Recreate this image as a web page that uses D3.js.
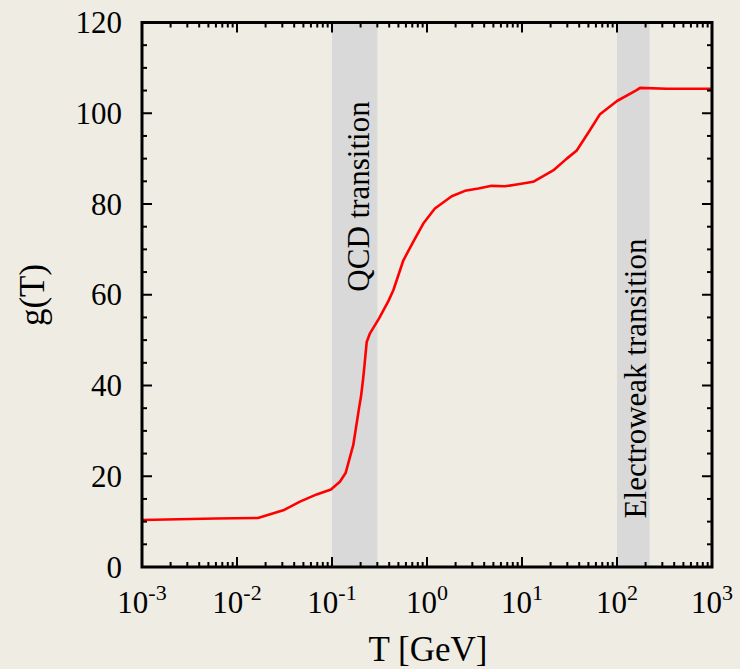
<!DOCTYPE html>
<html>
<head>
<meta charset="utf-8">
<script src="https://cdn.jsdelivr.net/npm/d3@7"></script>
<style>
  html, body { margin: 0; padding: 0; background: #efece4; }
  svg { display: block; }
  text { font-family: "Liberation Serif", "Times New Roman", serif; fill: #000; }
</style>
</head>
<body>
<svg id="chart" width="740" height="669"></svg>
<script>
// ---- data ----
const temperatureGeV = [0.001, 0.006, 0.0166, 0.0307, 0.046, 0.069, 0.0975, 0.121, 0.139, 0.1675, 0.1935, 0.2018, 0.213, 0.219, 0.232, 0.251, 0.313, 0.392, 0.442, 0.564, 0.718, 0.914, 1.21, 1.82, 2.51, 3.47, 4.8, 6.62, 8.79, 13.1, 21.3, 29.6, 37.7, 52.0, 66.2, 100, 161, 175, 333, 1000];
const gValues        = [10.36, 10.7, 10.8, 12.5, 14.4, 16.0, 17.1, 18.8, 20.7, 26.9, 35.3, 37.5, 41.6, 44.1, 49.6, 51.5, 54.8, 58.6, 61.0, 67.6, 71.7, 75.7, 79.0, 81.7, 82.9, 83.4, 84.0, 83.9, 84.3, 84.9, 87.4, 90.0, 91.8, 96.3, 99.8, 102.7, 105.1, 105.6, 105.4, 105.4];
const bandLabels = ["QCD transition", "Electroweak transition"];
const bandStart  = [0.1, 100];
const bandEnd    = [0.3, 220];
const xTickExponents = [-3, -2, -1, 0, 1, 2, 3];
const yTickValues = [0, 20, 40, 60, 80, 100, 120];
const xTitle = "T [GeV]";
const yTitle = "g(T)";

// ---- layout ----
const L = 142, R = 712, T = 22.5, B = 567;
const svg = d3.select("#chart");
svg.append("rect").attr("width", 740).attr("height", 669).attr("fill", "#efece4");

const x = d3.scaleLog().domain([1e-3, 1e3]).range([L, R]);
const y = d3.scaleLinear().domain([0, 120]).range([B, T]);

// bands
const bands = bandLabels.map((l, i) => ({label: l, a: bandStart[i], b: bandEnd[i]}));
svg.selectAll("rect.band").data(bands).enter().append("rect")
  .attr("class", "band")
  .attr("x", d => x(d.a)).attr("width", d => x(d.b) - x(d.a))
  .attr("y", T).attr("height", B - T)
  .attr("fill", "#d9d9d9");

// band labels
const labelPos = [{cx: 358, cy: 196.5}, {cx: 635, cy: 378.5}];
svg.selectAll("text.band").data(bands).enter().append("text")
  .attr("class", "band")
  .attr("transform", (d, i) => `translate(${labelPos[i].cx},${labelPos[i].cy}) rotate(-90)`)
  .attr("text-anchor", "middle")
  .attr("dominant-baseline", "central")
  .attr("font-size", 31)
  .text(d => d.label);

// curve
const pts = temperatureGeV.map((t, i) => [t, gValues[i]]);
svg.append("path").datum(pts)
  .attr("fill", "none").attr("stroke", "#ff0000").attr("stroke-width", 2.6)
  .attr("stroke-linejoin", "round")
  .attr("d", d3.line().x(d => x(d[0])).y(d => y(d[1])));

// ticks
const majorX = xTickExponents.map(e => Math.pow(10, e));
const minorX = [];
for (let e = -3; e < 3; e++) for (let k = 2; k <= 9; k++) minorX.push(k * Math.pow(10, e));
const minorY = d3.range(0, 121, 5).filter(v => v % 20 !== 0);

const tk = svg.append("g").attr("stroke", "#000").attr("stroke-width", 2);
function vt(vals, len) {
  vals.forEach(v => {
    tk.append("line").attr("x1", x(v)).attr("x2", x(v)).attr("y1", B).attr("y2", B - len);
    tk.append("line").attr("x1", x(v)).attr("x2", x(v)).attr("y1", T).attr("y2", T + len);
  });
}
function ht(vals, len) {
  vals.forEach(v => {
    tk.append("line").attr("y1", y(v)).attr("y2", y(v)).attr("x1", L).attr("x2", L + len);
    tk.append("line").attr("y1", y(v)).attr("y2", y(v)).attr("x1", R).attr("x2", R - len);
  });
}
vt(majorX, 10); vt(minorX, 5);
ht(yTickValues, 10); ht(minorY, 5);

// frame
svg.append("rect").attr("x", L).attr("y", T).attr("width", R - L).attr("height", B - T)
  .attr("fill", "none").attr("stroke", "#000").attr("stroke-width", 3);

// y tick labels
svg.selectAll("text.yl").data(yTickValues).enter().append("text")
  .attr("class", "yl")
  .attr("x", L - 20).attr("y", d => y(d))
  .attr("text-anchor", "end").attr("dominant-baseline", "central")
  .attr("font-size", 31)
  .text(d => d);

// x tick labels
const xl = svg.selectAll("text.xl").data(xTickExponents).enter().append("text")
  .attr("class", "xl")
  .attr("x", d => x(Math.pow(10, d))).attr("y", 613)
  .attr("text-anchor", "middle")
  .attr("font-size", 31);
xl.append("tspan").text("10");
xl.append("tspan").attr("dy", -13).attr("font-size", 22).text(d => d < 0 ? "-" + Math.abs(d) : String(d));

// axis titles
svg.append("text").attr("x", 428).attr("y", 661)
  .attr("text-anchor", "middle").attr("font-size", 35).text(xTitle);
svg.append("text").attr("transform", "translate(44,295) rotate(-90)")
  .attr("text-anchor", "middle").attr("font-size", 35).text(yTitle);
</script>
</body>
</html>
